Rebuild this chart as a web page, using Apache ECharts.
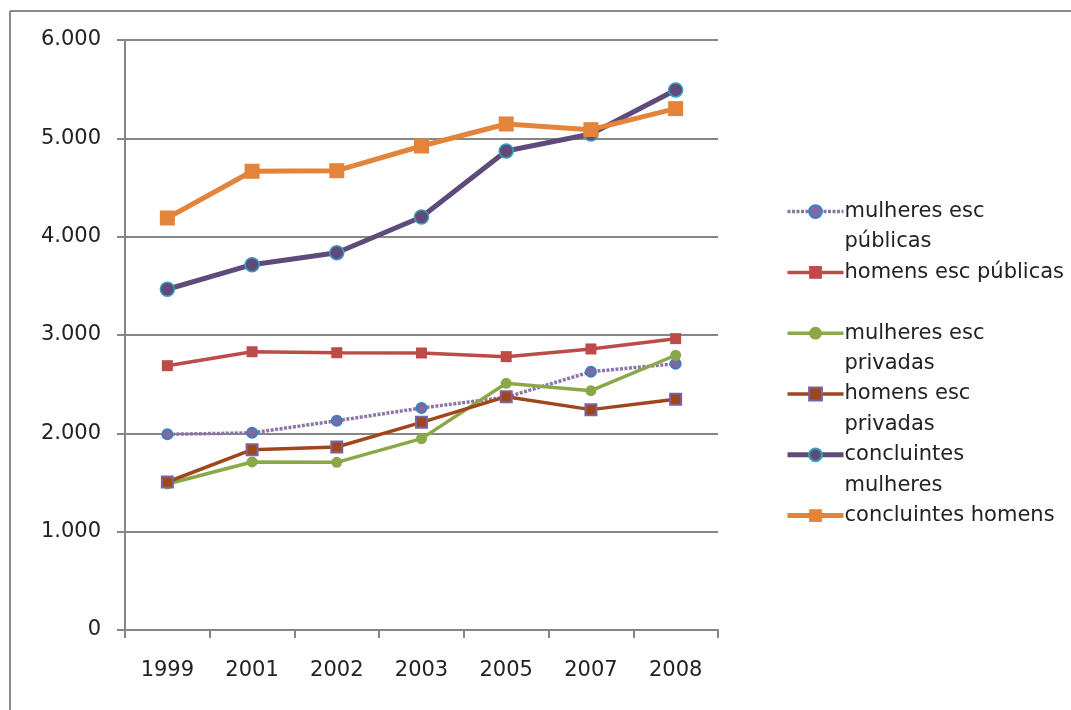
<!DOCTYPE html>
<html>
<head>
<meta charset="utf-8">
<script src="https://cdn.jsdelivr.net/npm/echarts@6/dist/echarts.min.js"></script>
<style>html,body{margin:0;padding:0;background:#fff;}#c{width:1071px;height:710px;}</style>
</head>
<body>
<div id="c"></div>
<script>
const years = ['1999','2001','2002','2003','2005','2007','2008'];
const mulheresPublicas = [1990, 2005, 2128, 2258, 2367, 2627, 2708];
const homensPublicas = [2688, 2830, 2820, 2817, 2780, 2858, 2963];
const mulheresPrivadas = [1485, 1709, 1705, 1946, 2509, 2434, 2794];
const homensPrivadas = [1505, 1834, 1861, 2112, 2373, 2241, 2346];
const concluintesMulheres = [3465, 3715, 3837, 4200, 4871, 5044, 5492];
const concluintesHomens = [4190, 4665, 4671, 4922, 5146, 5088, 5302];
const seriesNames = ['mulheres esc públicas','homens esc públicas','mulheres esc privadas','homens esc privadas','concluintes mulheres','concluintes homens'];
const legendLabels = {
  'mulheres esc públicas': 'mulheres esc\npúblicas',
  'homens esc públicas': 'homens esc públicas\n ',
  'mulheres esc privadas': 'mulheres esc\nprivadas',
  'homens esc privadas': 'homens esc\nprivadas',
  'concluintes mulheres': 'concluintes\nmulheres',
  'concluintes homens': 'concluintes homens\n '
};
const legendWidths = [3.5, 3.5, 3.5, 3.5, 5, 5];
const FONT = 'DejaVu Sans';
const chart = echarts.init(document.getElementById('c'), null, {renderer:'canvas'});
function fmt(v){ return v === 0 ? '0' : (v/1000).toFixed(3); }
chart.setOption({
  animation: false,
  backgroundColor: '#fff',
  grid: {left:125, right:353, top:40, bottom:80},
  graphic: [
    {type:'line', shape:{x1:10, y1:11, x2:1071, y2:11}, style:{stroke:'#8a8a8a', lineWidth:2}},
    {type:'line', shape:{x1:10, y1:11, x2:10, y2:710}, style:{stroke:'#8a8a8a', lineWidth:2}}
  ],
  legend: {
    orient:'vertical', left:785, top:166, padding:0, itemWidth:56, itemHeight:16, itemGap:-30.4,
    data: seriesNames.map((n, i) => ({name:n, lineStyle:{width:legendWidths[i]}})),
    formatter: n => ' \n' + legendLabels[n],
    textStyle: {fontFamily:FONT, fontSize:21, color:'#222', lineHeight:30.4, padding:[0,0,0,-4]},
    selectedMode:false
  },
  xAxis: {
    type:'category', data: years, boundaryGap:true,
    axisLine:{lineStyle:{color:'#868686', width:2}},
    axisTick:{show:true, length:8, inside:false, alignWithLabel:false, lineStyle:{color:'#868686', width:2}},
    axisLabel:{fontFamily:FONT, fontSize:21, color:'#222', margin:30},
    splitLine:{show:false}
  },
  yAxis: {
    type:'value', min:0, max:6000, interval:1000,
    axisLine:{show:true, lineStyle:{color:'#868686', width:2}},
    axisTick:{show:true, length:8, lineStyle:{color:'#868686', width:2}},
    axisLabel:{fontFamily:FONT, fontSize:21, color:'#222', margin:24, formatter: fmt},
    splitLine:{show:true, lineStyle:{color:'#868686', width:2}}
  },
  series: [
    {name:seriesNames[0], type:'line', data:mulheresPublicas, symbol:'circle', symbolSize:10,
      lineStyle:{color:'#8a76a8', width:3.5, type:[3,1.5]}, itemStyle:{color:'#7e6a9e', borderColor:'#3c7dc4', borderWidth:2}, z:3},
    {name:seriesNames[1], type:'line', data:homensPublicas, symbol:'rect', symbolSize:11,
      lineStyle:{color:'#be4b48', width:3.5}, itemStyle:{color:'#be4b48', borderColor:'#be4b48', borderWidth:0}, z:3},
    {name:seriesNames[2], type:'line', data:mulheresPrivadas, symbol:'circle', symbolSize:11,
      lineStyle:{color:'#8aa847', width:3.5}, itemStyle:{color:'#8aa847', borderWidth:0}, z:3},
    {name:seriesNames[3], type:'line', data:homensPrivadas, symbol:'rect', symbolSize:11,
      lineStyle:{color:'#a0461c', width:3.5}, itemStyle:{color:'#a0461c', borderColor:'#7d62a0', borderWidth:2}, z:4},
    {name:seriesNames[4], type:'line', data:concluintesMulheres, symbol:'circle', symbolSize:14,
      lineStyle:{color:'#5f4a7c', width:5}, itemStyle:{color:'#5f4a7c', borderColor:'#3aa0b8', borderWidth:1.5}, z:5},
    {name:seriesNames[5], type:'line', data:concluintesHomens, symbol:'rect', symbolSize:15,
      lineStyle:{color:'#e3843a', width:5}, itemStyle:{color:'#e3843a', borderWidth:0}, z:5}
  ]
});
</script>
</body>
</html>
